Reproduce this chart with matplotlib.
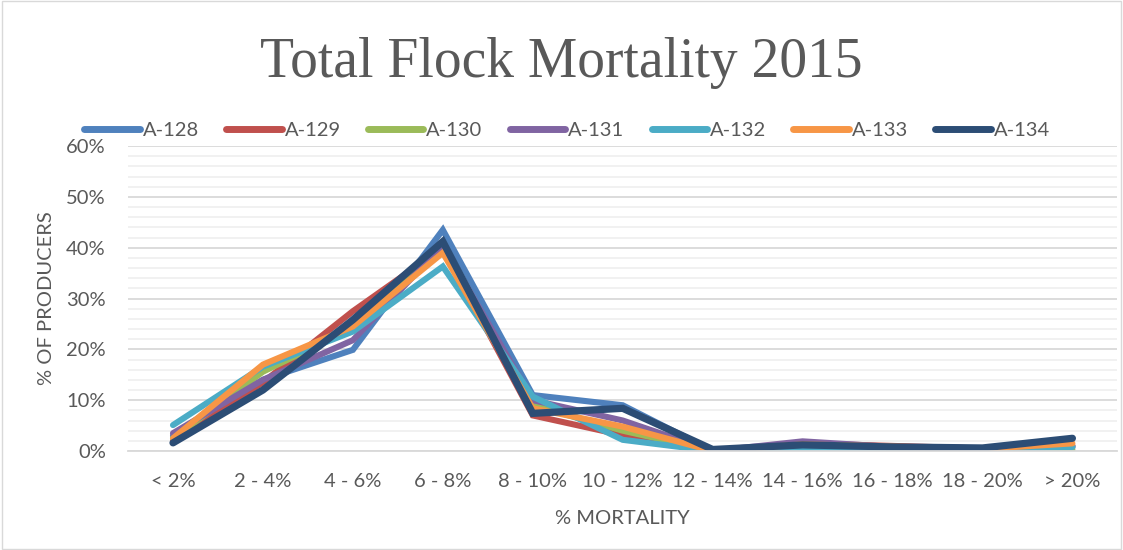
import matplotlib.pyplot as plt
import matplotlib.patches as mpatches
from matplotlib.ticker import MultipleLocator, PercentFormatter

categories = ["< 2%", "2 - 4%", "4 - 6%", "6 - 8%", "8 - 10%", "10 - 12%",
              "12 - 14%", "14 - 16%", "16 - 18%", "18 - 20%", "> 20%"]

a128 = [3.0, 14.0, 19.9, 43.5, 11.0, 9.0, 0.0, 1.0, 0.8, 0.5, 0.7]
a129 = [2.0, 13.5, 27.5, 40.0, 7.0, 3.1, 0.0, 1.5, 1.0, 0.5, 1.0]
a130 = [2.5, 15.6, 24.2, 40.0, 9.0, 4.0, 0.0, 1.2, 0.8, 0.3, 0.2]
a131 = [3.5, 14.0, 21.8, 40.5, 10.0, 6.0, 0.0, 1.9, 0.8, 0.5, 1.0]
a132 = [5.1, 16.6, 23.5, 36.3, 10.7, 2.2, 0.0, 0.5, 0.5, 0.3, 0.8]
a133 = [2.5, 17.0, 24.5, 39.0, 8.4, 4.8, 0.0, 1.3, 0.9, 0.4, 1.5]
a134 = [1.6, 12.0, 25.8, 41.2, 7.4, 8.4, 0.3, 1.2, 0.8, 0.6, 2.5]

series = {"A-128": a128, "A-129": a129, "A-130": a130, "A-131": a131,
          "A-132": a132, "A-133": a133, "A-134": a134}
colors = ["#4F81BD", "#C0504D", "#9BBB59", "#8064A2", "#4BACC6", "#F79646", "#2C4D75"]

text_color = "#595959"
font = "Lato"
fs = 14.5

fig = plt.figure(figsize=(11.23, 5.5), dpi=100)
ax = fig.add_axes([0.114, 0.18, 0.881, 0.5545])

x = range(len(categories))
for (name, vals), c in zip(series.items(), colors):
    lw = 5.2 if name == "A-134" else 4.4
    ax.plot(x, vals, color=c, lw=lw, label=name, solid_capstyle="round",
            solid_joinstyle="miter")

ax.set_ylim(0, 60)
ax.set_xlim(-0.5, len(categories) - 0.5)
ax.yaxis.set_major_locator(MultipleLocator(10))
ax.yaxis.set_minor_locator(MultipleLocator(2))
ax.yaxis.set_major_formatter(PercentFormatter(decimals=0))
ax.grid(which="major", axis="y", color="#D9D9D9", lw=1.3)
ax.grid(which="minor", axis="y", color="#F0F0F0", lw=1.3)
ax.set_axisbelow(True)
for s in ["top", "right", "left"]:
    ax.spines[s].set_visible(False)
ax.spines["bottom"].set_color("#D9D9D9")
ax.spines["bottom"].set_linewidth(1.3)

ax.set_xticks(list(x))
ax.set_xticklabels(categories)
ax.tick_params(axis="both", which="both", length=0, colors=text_color,
               labelsize=fs)
ax.tick_params(axis="x", pad=16)
ax.tick_params(axis="y", pad=16)
for lab in ax.get_xticklabels() + ax.get_yticklabels():
    lab.set_fontfamily(font)

ax.set_xlabel("% MORTALITY", fontsize=fs, color=text_color, family=font,
              labelpad=14)
ax.set_ylabel("% OF PRODUCERS", fontsize=fs, color=text_color, family=font,
              labelpad=8)

fig.text(0.5, 0.885, "Total Flock Mortality 2015", ha="center", va="center",
         fontsize=40, color=text_color, family="Liberation Serif")

leg = fig.legend(loc="center", bbox_to_anchor=(0.505, 0.7636), ncol=7,
                 frameon=False, handlelength=2.75, columnspacing=1.35,
                 handletextpad=0.15, prop={"family": font, "size": fs})
for t in leg.get_texts():
    t.set_color(text_color)
for h in leg.get_lines():
    h.set_linewidth(5.0)
    h.set_solid_capstyle("round")

fig.patches.append(mpatches.Rectangle((0.002, 0.002), 0.996, 0.996,
                                      transform=fig.transFigure, fill=False,
                                      edgecolor="#D9D9D9", lw=1))

fig.savefig("out.png", dpi=100)
